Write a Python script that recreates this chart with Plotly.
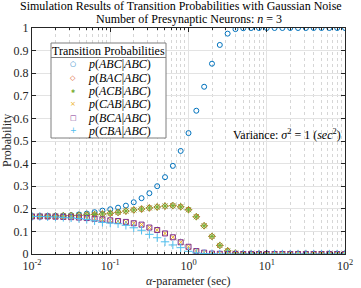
import plotly.graph_objects as go

# ---------------- data ----------------
alpha = [0.01, 0.012589, 0.015849, 0.019953, 0.025119, 0.031623, 0.039811, 0.050119, 0.063096, 0.079433,
         0.1, 0.12589, 0.15849, 0.19953, 0.25119, 0.31623, 0.39811, 0.50119, 0.63096, 0.79433,
         1.0, 1.2589, 1.5849, 1.9953, 2.5119, 3.1623, 3.9811, 5.0119, 6.3096, 7.9433,
         10.0, 12.589, 15.849, 19.953, 25.119, 31.623, 39.811, 50.119, 63.096, 79.433, 100.0]

p_ABC = [0.167, 0.167, 0.168, 0.169, 0.170, 0.172, 0.175, 0.179, 0.185, 0.192,
         0.198, 0.205, 0.214, 0.229, 0.247, 0.269, 0.300, 0.340, 0.390, 0.456,
         0.535, 0.634, 0.740, 0.842, 0.925, 0.975, 0.995, 0.999, 1.0, 1.0,
         1.0, 1.0, 1.0, 1.0, 1.0, 1.0, 1.0, 1.0, 1.0, 1.0, 1.0]
p_BAC = [0.167, 0.167, 0.167, 0.168, 0.169, 0.170, 0.171, 0.173, 0.175, 0.177,
         0.180, 0.184, 0.190, 0.195, 0.199, 0.204, 0.208, 0.212, 0.214, 0.209,
         0.196, 0.165, 0.125, 0.078, 0.038, 0.014, 0.004, 0.001, 0.0, 0.0,
         0.0, 0.0, 0.0, 0.0, 0.0, 0.0, 0.0, 0.0, 0.0, 0.0, 0.0]
p_ACB = [0.167, 0.167, 0.167, 0.168, 0.169, 0.170, 0.171, 0.173, 0.175, 0.177,
         0.180, 0.184, 0.190, 0.195, 0.199, 0.204, 0.208, 0.212, 0.214, 0.209,
         0.196, 0.165, 0.125, 0.078, 0.038, 0.014, 0.004, 0.001, 0.0, 0.0,
         0.0, 0.0, 0.0, 0.0, 0.0, 0.0, 0.0, 0.0, 0.0, 0.0, 0.0]
p_CAB = [0.166, 0.166, 0.166, 0.165, 0.164, 0.163, 0.161, 0.159, 0.156, 0.153,
         0.149, 0.146, 0.142, 0.136, 0.130, 0.117, 0.106, 0.091, 0.074, 0.052,
         0.032, 0.013, 0.006, 0.002, 0.001, 0.0, 0.0, 0.0, 0.0, 0.0,
         0.0, 0.0, 0.0, 0.0, 0.0, 0.0, 0.0, 0.0, 0.0, 0.0, 0.0]
p_BCA = [0.166, 0.166, 0.166, 0.165, 0.164, 0.163, 0.161, 0.159, 0.156, 0.153,
         0.149, 0.146, 0.142, 0.136, 0.130, 0.117, 0.106, 0.091, 0.074, 0.052,
         0.032, 0.013, 0.006, 0.002, 0.001, 0.0, 0.0, 0.0, 0.0, 0.0,
         0.0, 0.0, 0.0, 0.0, 0.0, 0.0, 0.0, 0.0, 0.0, 0.0, 0.0]
p_CBA = [0.166, 0.166, 0.165, 0.164, 0.162, 0.160, 0.157, 0.153, 0.147, 0.140,
         0.137, 0.134, 0.127, 0.116, 0.105, 0.087, 0.072, 0.054, 0.040, 0.028,
         0.012, 0.005, 0.002, 0.001, 0.0, 0.0, 0.0, 0.0, 0.0, 0.0,
         0.0, 0.0, 0.0, 0.0, 0.0, 0.0, 0.0, 0.0, 0.0, 0.0, 0.0]

series_names = ["ABC", "BAC", "ACB", "CAB", "BCA", "CBA"]
series_values = [p_ABC, p_BAC, p_ACB, p_CAB, p_BCA, p_CBA]

x_tickvals = [0.01, 0.1, 1, 10, 100]
x_ticktext = ["10<sup>-2</sup>", "10<sup>-1</sup>", "10<sup>0</sup>", "10<sup>1</sup>", "10<sup>2</sup>"]
x_minorvals = [m * 10 ** e for e in (-2, -1, 0, 1) for m in range(2, 10)]
y_tickvals = [0, 0.1, 0.2, 0.3, 0.4, 0.5, 0.6, 0.7, 0.8, 0.9, 1]
y_ticktext = ["0", "0.1", "0.2", "0.3", "0.4", "0.5", "0.6", "0.7", "0.8", "0.9", "1"]

# ---------------- styles ----------------
colors = ["#0072BD", "#D95319", "#77AC30", "#EDB120", "#7E2F8E", "#4DBEEE"]
symbols = ["circle-open", "diamond-open", "asterisk-open", "x-thin-open", "square-open", "cross-thin-open"]
sizes = [5, 5, 6, 5, 5, 6]
glyphs = ["○", "◇", "✱", "×", "□", "+"]
glyph_sizes = [7, 7, 5, 7, 7, 8]

SERIF = "Liberation Serif"
AX = "#262626"
W, H = 361, 288
ML, MR, MT, MB = 32, 16, 28, 34
PW, PH = W - ML - MR, H - MT - MB


def px(x):
    return (x - ML) / PW


def py(y):
    return (H - MB - y) / PH


fig = go.Figure()
for name, vals, c, s, sz in zip(series_names, series_values, colors, symbols, sizes):
    fig.add_trace(go.Scatter(
        x=alpha, y=vals, mode="markers", name=f"p({name}|ABC)",
        marker=dict(symbol=s, size=sz, color=c, line=dict(color=c, width=1)),
        showlegend=False, hoverinfo="skip",
    ))

annotations = []
# title lines
annotations.append(dict(text="Simulation Results of Transition Probabilities with Gaussian Noise",
                        xref="paper", yref="paper", x=px(181), y=py(6), xanchor="center", yanchor="middle",
                        showarrow=False, font=dict(family=SERIF, size=12, color="black")))
annotations.append(dict(text="Number of Presynaptic Neurons: <i>n</i> = 3",
                        xref="paper", yref="paper", x=0.5, y=py(18.5), xanchor="center", yanchor="middle",
                        showarrow=False, font=dict(family=SERIF, size=12, color="black")))
# axis titles
annotations.append(dict(text="<i>α</i>-parameter (sec)", xref="paper", yref="paper",
                        x=0.5, y=py(281), xanchor="center", yanchor="middle", showarrow=False,
                        font=dict(family=SERIF, size=12, color=AX)))
annotations.append(dict(text="Probability", xref="paper", yref="paper", textangle=-90,
                        x=px(7), y=0.5, xanchor="center", yanchor="middle", showarrow=False,
                        font=dict(family=SERIF, size=12, color=AX)))
# variance note
annotations.append(dict(text="Variance: <i>σ</i><sup>2</sup> = 1 (<i>sec</i><sup>2</sup>)",
                        xref="paper", yref="paper", x=px(343), y=py(134), xanchor="right", yanchor="middle",
                        showarrow=False, font=dict(family=SERIF, size=12, color="black")))
# legend (box drawn as shapes, entries as text)
annotations.append(dict(text="Transition Probabilities", xref="paper", yref="paper",
                        x=px(108.5), y=py(50.5), xanchor="center", yanchor="middle",
                        showarrow=False, font=dict(family=SERIF, size=12, color="black")))
for k, (name, c, g, gs) in enumerate(zip(series_names, colors, glyphs, glyph_sizes)):
    yy = 64.3 + k * 13.3
    annotations.append(dict(text=g, xref="paper", yref="paper", x=px(73), y=py(yy),
                            xanchor="center", yanchor="middle", showarrow=False,
                            font=dict(family="DejaVu Sans", size=gs, color=c)))
    annotations.append(dict(text=f"<i>p</i>(<i>{name}</i>|<i>ABC</i>)", xref="paper", yref="paper",
                            x=px(86), y=py(yy), xanchor="left", yanchor="middle", showarrow=False,
                            font=dict(family=SERIF, size=12, color="black")))

shapes = [
    dict(type="rect", xref="paper", yref="paper", x0=px(51), x1=px(166), y0=py(138), y1=py(43),
         fillcolor="white", line=dict(color="#7f7f7f", width=1), layer="above"),
    dict(type="line", xref="paper", yref="paper", x0=px(51), x1=px(166), y0=py(57.5), y1=py(57.5),
         line=dict(color="#7f7f7f", width=1), layer="above"),
]

fig.update_layout(
    width=W, height=H,
    margin=dict(l=ML, r=MR, t=MT, b=MB, autoexpand=False),
    paper_bgcolor="white", plot_bgcolor="white",
    font=dict(family=SERIF, size=11, color=AX),
    annotations=annotations, shapes=shapes,
    showlegend=False, hovermode=False,
)
fig.update_xaxes(
    type="log", range=[-2, 2], automargin=False,
    tickmode="array", tickvals=x_tickvals, ticktext=x_ticktext,
    ticks="inside", ticklen=4, tickcolor=AX, ticklabelstandoff=1,
    showline=True, linecolor=AX, linewidth=1, mirror="ticks",
    showgrid=True, gridcolor="#e3e3e3", gridwidth=1,
    zeroline=False,
    tickfont=dict(family=SERIF, size=12, color=AX),
    minor=dict(tickmode="array", tickvals=x_minorvals, ticks="inside", ticklen=2, tickcolor=AX,
               showgrid=True, gridcolor="#d6d6d6", griddash="dot", gridwidth=1),
)
fig.update_yaxes(
    range=[0, 1], automargin=False,
    tickmode="array", tickvals=y_tickvals, ticktext=y_ticktext,
    ticks="inside", ticklen=4, tickcolor=AX,
    showline=True, linecolor=AX, linewidth=1, mirror="ticks",
    showgrid=True, gridcolor="#e3e3e3", gridwidth=1,
    zeroline=False,
    tickfont=dict(family=SERIF, size=12, color=AX),
)

fig.write_html("out.html", config={"displayModeBar": False},
               post_script="document.body.style.margin='0';")
